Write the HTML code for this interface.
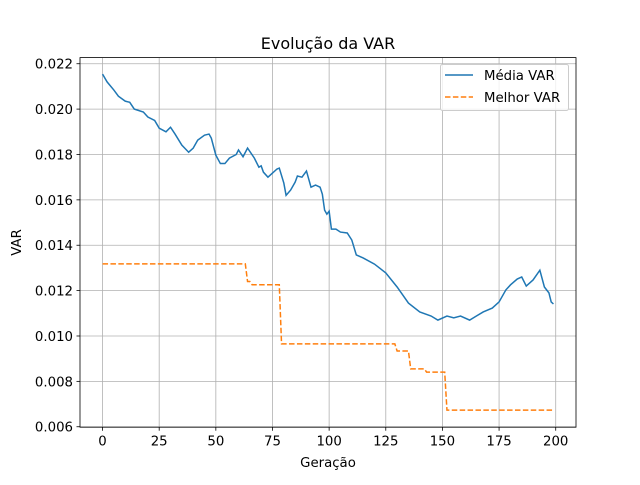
<!DOCTYPE html>
<html><head><meta charset="utf-8"><style>
body{margin:0;background:#fff;}
svg text{font-family:"DejaVu Sans","Liberation Sans",sans-serif;fill:#000;}
</style></head><body>
<svg id="chart" width="640" height="480" xmlns="http://www.w3.org/2000/svg"></svg>
<script>
const meanGen=[0,2,5,7,10,12,14,18,20,23,25,28,30,32,35,38,40,42,45,47,48,50,52,54,56,59,60,62,64,67,69,70,71,73,75,77,78,80,81,83,85,86,88,90,92,94,96,97,98,99,100,101,103,105,108,110,112,115,120,125,130,135,140,145,148,152,155,158,162,165,168,172,175,178,180,183,185,187,190,193,195,197,198,199];
const meanVal=[0.02154,0.0212,0.02084,0.02057,0.02035,0.0203,0.0200,0.01987,0.01965,0.0195,0.01916,0.0190,0.0192,0.0189,0.01841,0.0181,0.01828,0.01863,0.01885,0.0189,0.01872,0.01797,0.0176,0.0176,0.01784,0.018,0.0182,0.0179,0.01828,0.01784,0.01744,0.0175,0.01722,0.0170,0.01718,0.01736,0.0174,0.01674,0.0162,0.01643,0.01678,0.01705,0.0170,0.01727,0.01656,0.01665,0.01656,0.01625,0.01555,0.01537,0.0155,0.01471,0.01471,0.01458,0.01454,0.01423,0.01357,0.01344,0.01317,0.01278,0.01216,0.01145,0.01106,0.01088,0.0107,0.01088,0.0108,0.01088,0.0107,0.01088,0.01106,0.01123,0.0115,0.01203,0.01225,0.01251,0.0126,0.0122,0.01247,0.0129,0.01216,0.0119,0.0115,0.01141];
const bestStart=[0,64,66,79,130,136,143,152];
const bestEnd=[63,65,78,129,135,142,151,199];
const bestVal=[0.01318,0.0124,0.01226,0.00965,0.00934,0.00855,0.00841,0.00673];
const xTicks=[0,25,50,75,100,125,150,175,200];
const yTicks=[0.006,0.008,0.010,0.012,0.014,0.016,0.018,0.020,0.022];

const L=80,R=576,T=57.6,B=427.2;
const xMin=-9.95,xMax=208.95,yMin=0.00598,yMax=0.02227;
const xs=v=>L+(v-xMin)/(xMax-xMin)*(R-L);
const ys=v=>B-(v-yMin)/(yMax-yMin)*(B-T);
const svg=document.getElementById('chart');
const NS='http://www.w3.org/2000/svg';
function mk(tag,attrs,parent){const e=document.createElementNS(NS,tag);for(const k in attrs)e.setAttribute(k,attrs[k]);(parent||svg).appendChild(e);return e;}

const grid=mk('g',{});


xTicks.forEach(t=>{
  const x=xs(t);
  mk('line',{x1:x,x2:x,y1:T,y2:B,stroke:'#b0b0b0','stroke-width':0.8},grid);
  mk('line',{x1:x,x2:x,y1:B,y2:B+3.5,stroke:'#000','stroke-width':0.8},grid);
  const tx=mk('text',{x:x,y:B+18.5,'text-anchor':'middle','font-size':'13.3px'},grid);
  tx.textContent=t;
  
  
});
yTicks.forEach(t=>{
  const y=ys(t);
  mk('line',{x1:L,x2:R,y1:y,y2:y,stroke:'#b0b0b0','stroke-width':0.8},grid);
  mk('line',{x1:L-3.5,x2:L,y1:y,y2:y,stroke:'#000','stroke-width':0.8},grid);
  const tx=mk('text',{x:L-7,y:y+5,'text-anchor':'end','font-size':'13.3px'},grid);
  tx.textContent=t.toFixed(3);
  
  
});

let d=meanGen.map((g,i)=>(i?'L':'M')+xs(g).toFixed(2)+','+ys(meanVal[i]).toFixed(2)).join('');
const ml=mk('path',{d:d,fill:'none',stroke:'#1f77b4','stroke-width':1.5});



let pts=[];
bestStart.forEach((s,i)=>{pts.push([s,bestVal[i]]);pts.push([bestEnd[i],bestVal[i]]);});
d=pts.map((p,i)=>(i?'L':'M')+xs(p[0]).toFixed(2)+','+ys(p[1]).toFixed(2)).join('');
const bl=mk('path',{d:d,fill:'none',stroke:'#ff7f0e','stroke-width':1.5,'stroke-dasharray':'5.5,2.4'});



const frame=mk('rect',{x:L,y:T,width:R-L,height:B-T,fill:'none',stroke:'#000','stroke-width':0.8});



const title=mk('text',{x:(L+R)/2,y:49,'text-anchor':'middle','font-size':'16px'});
title.textContent='Evolução da VAR';


const xl=mk('text',{x:(L+R)/2,y:467,'text-anchor':'middle','font-size':'13.3px'});
xl.textContent='Geração';


const yl=mk('text',{x:21,y:(T+B)/2,'text-anchor':'middle','font-size':'13.3px',transform:'rotate(-90 21 '+((T+B)/2)+')'});
yl.textContent='VAR';



const lg=mk('g',{});


mk('rect',{x:440.5,y:64.5,width:128,height:46,rx:2,fill:'#fff','fill-opacity':0.8,stroke:'#ccc','stroke-width':1},lg);
mk('line',{x1:445,x2:473,y1:75,y2:75,stroke:'#1f77b4','stroke-width':1.5},lg);
mk('line',{x1:445,x2:473,y1:97,y2:97,stroke:'#ff7f0e','stroke-width':1.5,'stroke-dasharray':'5.5,2.4'},lg);
const l1=mk('text',{x:484,y:80,'font-size':'13.3px'},lg);
l1.textContent='Média VAR';


const l2=mk('text',{x:484,y:102,'font-size':'13.3px'},lg);
l2.textContent='Melhor VAR';


</script>
</body></html>
